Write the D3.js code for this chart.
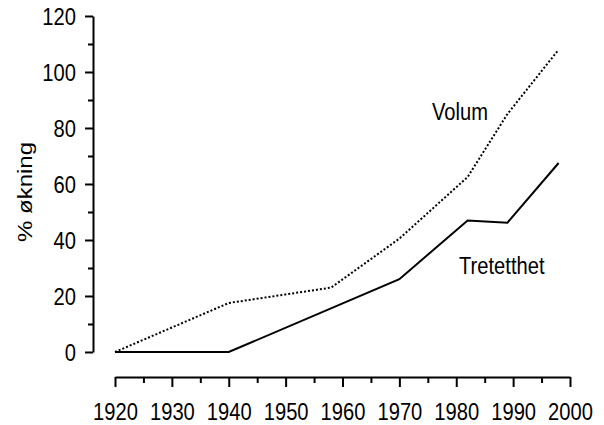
<!DOCTYPE html>
<html>
<head>
<meta charset="utf-8">
<script src="https://cdn.jsdelivr.net/npm/d3@7"></script>
<style>
  html, body { margin: 0; padding: 0; background: #fff; }
  svg { display: block; }
  text { font-family: "Liberation Sans", Arial, sans-serif; fill: #000; }
</style>
</head>
<body>
<svg id="chart" width="604" height="425"></svg>
<script>
const width = 604;
const height = 425;

// data
const years = [1920, 1940, 1958, 1970, 1982, 1989, 1998];
const volum = [0, 17.5, 23, 40.5, 62.5, 85, 108];
const tretYears = [1920, 1940, 1970, 1982, 1989, 1998];
const tretetthet = [0, 0, 26, 47, 46.2, 67.5];

const yTicks = [0, 20, 40, 60, 80, 100, 120];
const yMinor = [10, 30, 50, 70, 90, 110];
const xTicks = [1920, 1930, 1940, 1950, 1960, 1970, 1980, 1990, 2000];
const xMinor = [1925, 1935, 1945, 1955, 1965, 1975, 1985, 1995];

const squeeze = 0.84; // text in the picture is narrowed horizontally

const svg = d3.select("#chart");

const x = d3.scaleLinear().domain([1920, 2000]).range([115, 570]);
const y = d3.scaleLinear().domain([0, 120]).range([352, 16]);

const axisX = 93;
const axisY = 377;

// y axis
const gy = svg.append("g").attr("transform", `translate(${axisX},0)`);
gy.call(d3.axisLeft(y).tickValues(yTicks).tickSize(8).tickSizeOuter(0).tickFormat(d3.format("d")));
svg.append("g")
  .attr("transform", `translate(${axisX},0)`)
  .call(d3.axisLeft(y).tickValues(yMinor).tickSize(5).tickFormat(""))
  .select(".domain").remove();

// x axis
const gx = svg.append("g").attr("transform", `translate(0,${axisY})`);
gx.call(d3.axisBottom(x).tickValues(xTicks).tickSize(10).tickSizeOuter(0).tickFormat(d3.format("d")));
svg.append("g")
  .attr("transform", `translate(0,${axisY})`)
  .call(d3.axisBottom(x).tickValues(xMinor).tickSize(6).tickFormat(""))
  .select(".domain").remove();

svg.selectAll(".domain, .tick line")
  .attr("stroke", "#000")
  .attr("stroke-width", 2);

svg.selectAll(".tick text")
  .attr("font-size", 24)
  .attr("font-family", "Liberation Sans, Arial, sans-serif")
  .attr("fill", "#000");

gy.selectAll(".tick text")
  .attr("x", -17 / squeeze)
  .attr("dy", "0.36em")
  .attr("transform", `scale(${squeeze},1)`);

gx.selectAll(".tick text")
  .attr("y", 43)
  .attr("dy", 0)
  .attr("transform", `scale(${squeeze},1)`);

// lines
const line = d3.line().x(d => x(d[0])).y(d => y(d[1]));

svg.append("path")
  .datum(years.map((yr, i) => [yr, volum[i]]))
  .attr("d", line)
  .attr("fill", "none")
  .attr("stroke", "#000")
  .attr("stroke-width", 2)
  .attr("stroke-dasharray", "2,2");

svg.append("path")
  .datum(tretYears.map((yr, i) => [yr, tretetthet[i]]))
  .attr("d", line)
  .attr("fill", "none")
  .attr("stroke", "#000")
  .attr("stroke-width", 2)
  .attr("stroke-linejoin", "miter");

// labels
function label(text, px, py) {
  svg.append("text")
    .attr("transform", `translate(${px},${py}) scale(${squeeze},1)`)
    .attr("font-size", 24)
    .text(text);
}
label("Volum", 432, 120);
label("Tretetthet", 459, 274);

svg.append("text")
  .attr("transform", `translate(32,192) scale(${squeeze},1) rotate(-90)`)
  .attr("text-anchor", "middle")
  .attr("font-size", 24)
  .text("% økning");
</script>
</body>
</html>
